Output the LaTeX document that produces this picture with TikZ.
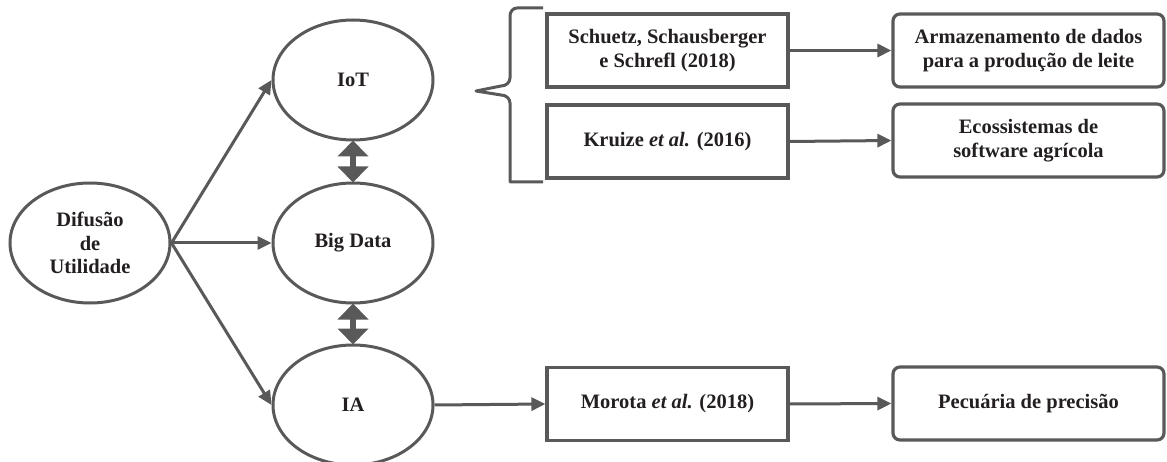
\documentclass[tikz,border=0pt]{standalone}
\usepackage{fontspec}
\setmainfont{Liberation Serif}
\usetikzlibrary{arrows.meta,shapes.geometric}
\definecolor{lc}{HTML}{595959}
\definecolor{tc}{HTML}{231F20}
\tikzset{
  ell/.style={draw=lc, line width=3pt, ellipse, minimum width=160pt, minimum height=120pt, inner sep=0pt, text=tc, font=\fontsize{20.5}{23.5}\selectfont\bfseries, align=center},
  refbox/.style={draw=lc, line width=3.2pt, rectangle, minimum width=241pt, minimum height=73pt, inner sep=0pt, text=tc, font=\fontsize{20.5}{23.5}\selectfont\bfseries, align=center},
  resbox/.style={draw=lc, line width=3.2pt, rectangle, rounded corners=7pt, minimum width=271pt, minimum height=73pt, inner sep=0pt, text=tc, font=\fontsize{20.5}{23.5}\selectfont\bfseries, align=center},
  arr/.style={draw=lc, line width=3pt, -{Triangle[length=14pt,width=13pt]}},
  dblarr/.style={draw=lc, line width=6pt, {Triangle[length=16pt,width=30pt]}-{Triangle[length=16pt,width=30pt]}, shorten <=-1pt, shorten >=-1pt},
}
\begin{document}
\begin{tikzpicture}[x=1pt,y=-1pt]
\useasboundingbox (0,0) rectangle (1167,462);
\node[ell] (dif) at (90,243) {Difusão\\de\\Utilidade};
\node[ell] (iot) at (353,80) {IoT};
\node[ell] (big) at (353,243) {Big Data};
\node[ell] (ia) at (353,405) {IA};
\node[refbox] (sch) at (667.5,50.5) {Schuetz, Schausberger\\e Schrefl (2018)};
\node[refbox] (kru) at (667.5,141.5) {Kruize {\itshape et al.} (2016)};
\node[refbox] (mor) at (667.5,404) {Morota {\itshape et al.} (2018)};
\node[resbox] (arm) at (1028.5,50.5) {Armazenamento de dados\\para a produção de leite};
\node[resbox] (eco) at (1028.5,140.5) {Ecossistemas de\\software agrícola};
\node[resbox] (pec) at (1028.5,403.5) {Pecuária de precisão};
\draw[arr] (dif.east) -- (iot.west);
\draw[arr] (dif.east) -- (big.west);
\draw[arr] (dif.east) -- (ia.west);
\draw[dblarr] (iot.south) -- (big.north);
\draw[dblarr] (big.south) -- (ia.north);
\draw[arr] (ia.east) -- (mor.west);
\draw[arr] (mor.east) -- (pec.west);
\draw[arr] (sch.east) -- (arm.west);
\draw[arr] (kru.east) -- (eco.west);
\draw[draw=lc, line width=3pt, line join=round]
  (543,8) -- (517,8) to[out=180,in=90] (510,16) -- (510,78)
  to[out=-90,in=0] (501,86) -- (476,91) -- (501,95)
  to[out=0,in=90] (510,103) -- (510,182) -- (543,182);
\end{tikzpicture}
\end{document}
